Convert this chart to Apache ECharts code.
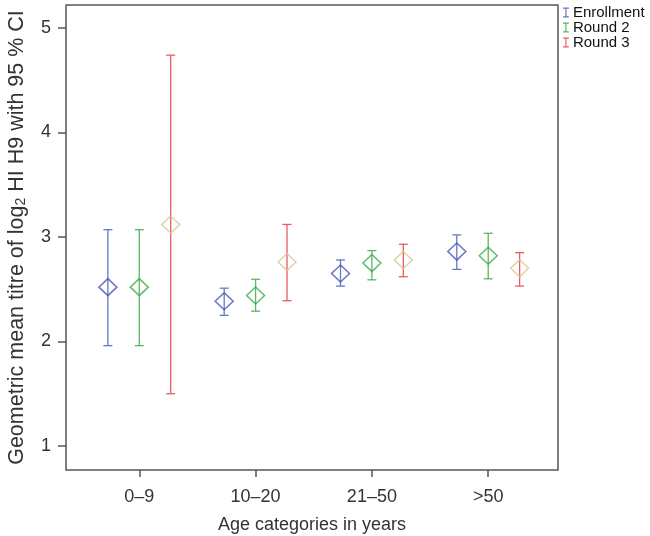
<!DOCTYPE html>
<html>
<head>
<meta charset="utf-8">
<script src="https://cdn.jsdelivr.net/npm/echarts@6/dist/echarts.min.js"></script>
<style>html,body{margin:0;padding:0;background:#fff;}#c{width:650px;height:536px;}</style>
</head>
<body>
<div id="c"></div>
<script>
const categories = ['0\u20139', '10\u201320', '21\u201350', '>50'];
const yTicks = [1, 2, 3, 4, 5];
const enrollMean = [2.52, 2.385, 2.65, 2.86];
const enrollLow  = [1.96, 2.25, 2.53, 2.69];
const enrollHigh = [3.07, 2.51, 2.78, 3.02];
const round2Mean = [2.52, 2.44, 2.75, 2.82];
const round2Low  = [1.96, 2.29, 2.59, 2.60];
const round2High = [3.07, 2.595, 2.87, 3.035];
const round3Mean = [3.12, 2.76, 2.78, 2.70];
const round3Low  = [1.50, 2.39, 2.62, 2.53];
const round3High = [4.74, 3.12, 2.93, 2.85];

const FONT = 'Liberation Sans, Arial, sans-serif';
const groups = [
  {name: 'Enrollment', off: -0.27, mean: enrollMean, low: enrollLow, high: enrollHigh, bar: '#6777c6', dia: '#4456b5'},
  {name: 'Round 2', off: 0, mean: round2Mean, low: round2Low, high: round2High, bar: '#5ab760', dia: '#3fa948'},
  {name: 'Round 3', off: 0.27, mean: round3Mean, low: round3Low, high: round3High, bar: '#ea5a63', dia: '#d9c690'}
];

function errRender(color) {
  return function (params, api) {
    const x = api.value(0);
    const lo = api.coord([x, api.value(1)]);
    const hi = api.coord([x, api.value(2)]);
    const w = 4.5;
    const st = {stroke: color, lineWidth: 1.3};
    return {
      type: 'group',
      children: [
        {type: 'line', shape: {x1: lo[0], y1: lo[1], x2: hi[0], y2: hi[1]}, style: st},
        {type: 'line', shape: {x1: lo[0] - w, y1: lo[1], x2: lo[0] + w, y2: lo[1]}, style: st},
        {type: 'line', shape: {x1: hi[0] - w, y1: hi[1], x2: hi[0] + w, y2: hi[1]}, style: st}
      ]
    };
  };
}

const series = [];
groups.forEach(g => {
  series.push({
    name: g.name,
    type: 'custom',
    color: g.bar,
    renderItem: errRender(g.bar),
    data: categories.map((c, i) => [i + 1 + g.off, g.low[i], g.high[i]]),
    encode: {x: 0, y: [1, 2]},
    z: 2
  });
});
groups.forEach(g => {
  series.push({
    name: g.name + ' mean',
    type: 'scatter',
    symbol: 'diamond',
    symbolSize: [18, 17],
    itemStyle: {color: 'rgba(255,255,255,0)', borderColor: g.dia, borderWidth: 1.5},
    data: categories.map((c, i) => [i + 1 + g.off, g.mean[i]]),
    z: 3
  });
});

const ibeam = 'path://M0,0H7V1.4H4.2V10.6H7V12H0V10.6H2.8V1.4H0Z';

const chart = echarts.init(document.getElementById('c'), null, {renderer: 'canvas'});
chart.setOption({
  animation: false,
  backgroundColor: '#fff',
  grid: {left: 66, right: 92, top: 5, bottom: 66, show: true, borderColor: '#555', borderWidth: 1.5,
         backgroundColor: 'transparent', containLabel: false, outerBoundsMode: 'none'},
  legend: {
    orient: 'vertical', left: 563, top: 5, itemGap: 0, itemWidth: 6, itemHeight: 10, padding: 0,
    data: groups.map(g => ({name: g.name, icon: ibeam})),
    textStyle: {fontFamily: FONT, fontSize: 15, color: '#111', lineHeight: 14, padding: [0, 0, 0, -1]},
    selectedMode: false
  },
  xAxis: {
    type: 'value', min: 0.37, max: 4.6,
    axisLine: {show: false},
    splitLine: {show: false},
    axisTick: {show: true, length: 7, lineStyle: {color: '#555', width: 1.5}, customValues: [1, 2, 3, 4]},
    axisLabel: {customValues: [1, 2, 3, 4], formatter: v => categories[Math.round(v) - 1], fontFamily: FONT, fontSize: 18, color: '#333', margin: 18},
    name: 'Age categories in years', nameLocation: 'middle', nameGap: 46,
    nameTextStyle: {fontFamily: FONT, fontSize: 18, color: '#333'}
  },
  yAxis: {
    type: 'value', min: 0.77, max: 5.22,
    axisLine: {show: false},
    splitLine: {show: false},
    axisTick: {show: true, length: 8, lineStyle: {color: '#555', width: 1.5}, customValues: yTicks},
    axisLabel: {customValues: yTicks, fontFamily: FONT, fontSize: 18, color: '#333', margin: 15},
    name: 'Geometric mean titre of log{sub|2} HI H9 with 95 % CI', nameLocation: 'middle', nameGap: 38,
    nameTextStyle: {fontFamily: FONT, fontSize: 21.5, color: '#333',
      rich: {sub: {fontFamily: FONT, fontSize: 14, color: '#333', verticalAlign: 'bottom', padding: [8, 0, 0, 0]}}}
  },
  series: series
});
</script>
</body>
</html>
